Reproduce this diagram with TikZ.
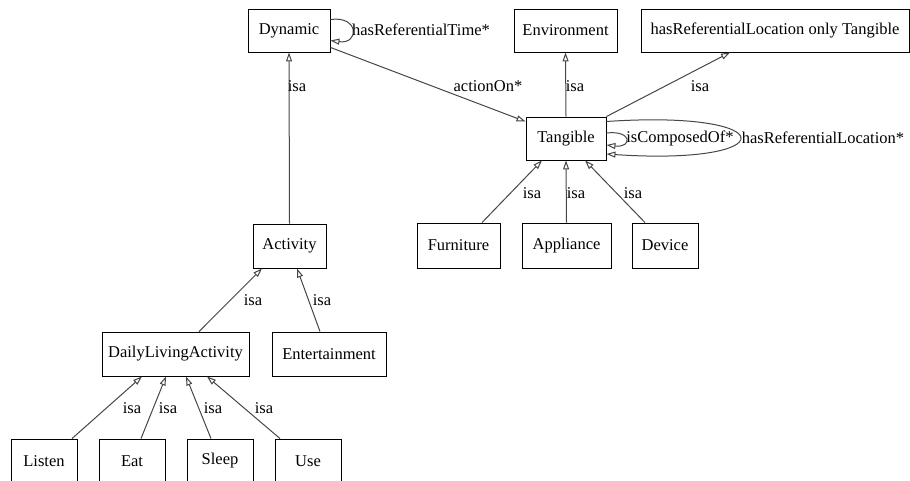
\documentclass[tikz,border=0pt]{standalone}
\usepackage{fontspec}
\setmainfont{Liberation Serif}
\usetikzlibrary{arrows.meta,calc}
\definecolor{edgec}{RGB}{70,70,70}
\tikzset{
  cls/.style={draw=black, line width=0.9pt, rectangle, inner sep=0pt, minimum height=43pt, font=\fontsize{16.5}{19}\selectfont},
  lbl/.style={inner sep=0pt, font=\fontsize{16.5}{19}\selectfont},
  rel/.style={draw=edgec, line width=1pt, -{Triangle[open,length=9pt,width=6pt]}},
}
\begin{document}
\begin{tikzpicture}[x=1pt,y=-1pt]
\useasboundingbox (0,0) rectangle (910,481);
\clip (0,0) rectangle (910,481);
% classes
\node[cls, minimum width=82pt] (dyn) at (289,30.5) {Dynamic};
\node[cls, minimum width=103pt] (env) at (565.5,30.5) {Environment};
\node[cls, minimum width=268pt] (hrl) at (775,30.5) {hasReferentialLocation only Tangible};
\node[cls, minimum width=80pt] (tan) at (566,138.5) {Tangible};
\node[cls, minimum width=83pt, minimum height=45pt] (fur) at (458.5,245.5) {Furniture};
\node[cls, minimum width=89pt, minimum height=45pt] (app) at (566.5,245.5) {Appliance};
\node[cls, minimum width=66pt, minimum height=45pt] (dev) at (665,245.5) {Device};
\node[cls, minimum width=73pt, minimum height=44pt] (act) at (289.5,246) {Activity};
\node[cls, minimum width=147pt, minimum height=44pt] (dla) at (175.5,354) {DailyLivingActivity};
\node[cls, minimum width=114pt, minimum height=44pt] (ent) at (329,354) {Entertainment};
\node[cls, minimum width=66pt, minimum height=44pt] (lis) at (44,461) {Listen};
\node[cls, minimum width=66pt, minimum height=44pt] (eat) at (132,461) {Eat};
\node[cls, minimum width=66pt, minimum height=44pt] (sle) at (220,461) {Sleep};
\node[cls, minimum width=66pt, minimum height=44pt] (use) at (308,461) {Use};
% edges
\draw[rel] (act.north) -- (dyn.south);
\draw[rel] ([yshift=5pt]dyn.south east) -- ([yshift=-5pt]tan.north west);
\draw[rel] ($(dyn.east)+(0,-11)$) .. controls +(29,-4) and +(29,4) .. ($(dyn.east)+(0,10)$);
\draw[rel] (tan.north) -- (env.south);
\draw[rel] (tan.north east) -- ([xshift=-45pt]hrl.south);
\draw[rel] ($(tan.east)+(0,-5.5)$) .. controls +(26,-3) and +(26,3) .. ($(tan.east)+(0,6.5)$);
\draw[rel] ($(tan.east)+(0,-17)$) .. controls +(178,-12) and +(178,12) .. ($(tan.east)+(0,15.5)$);
\draw[rel] ([xshift=23.5pt]fur.north) -- ([xshift=-24pt]tan.south);
\draw[rel] (app.north) -- (tan.south);
\draw[rel] ([xshift=-20pt]dev.north) -- ([xshift=19pt]tan.south);
\draw[rel] ([xshift=23.5pt]dla.north) -- ([xshift=-27.5pt]act.south);
\draw[rel] ([xshift=-9pt]ent.north) -- ([xshift=7.5pt]act.south);
\draw[rel] ([xshift=28pt]lis.north) -- ([xshift=-33.5pt]dla.south);
\draw[rel] ([xshift=9pt]eat.north) -- ([xshift=-9.5pt]dla.south);
\draw[rel] ([xshift=-9pt]sle.north) -- ([xshift=10.5pt]dla.south);
\draw[rel] ([xshift=-28pt]use.north) -- ([xshift=31.5pt]dla.south);
% labels
\node[lbl] (l1) at (297,86) {isa};
\node[lbl] (l2) at (488,86) {actionOn*};
\node[lbl] (l3) at (421,30) {hasReferentialTime*};
\node[lbl] (l4) at (575,86) {isa};
\node[lbl] (l5) at (700,86) {isa};
\node[lbl] (l6) at (680,138) {isComposedOf*};
\node[lbl] (l7) at (823,138) {hasReferentialLocation*};
\node[lbl] (l8) at (532,193) {isa};
\node[lbl] (l9) at (576,193) {isa};
\node[lbl] (l10) at (633,193) {isa};
\node[lbl] (l11) at (253,300) {isa};
\node[lbl] (l12) at (322,300) {isa};
\node[lbl] (l13) at (132,408) {isa};
\node[lbl] (l14) at (168,408) {isa};
\node[lbl] (l15) at (213,408) {isa};
\node[lbl] (l16) at (264,408) {isa};
\end{tikzpicture}
\end{document}
